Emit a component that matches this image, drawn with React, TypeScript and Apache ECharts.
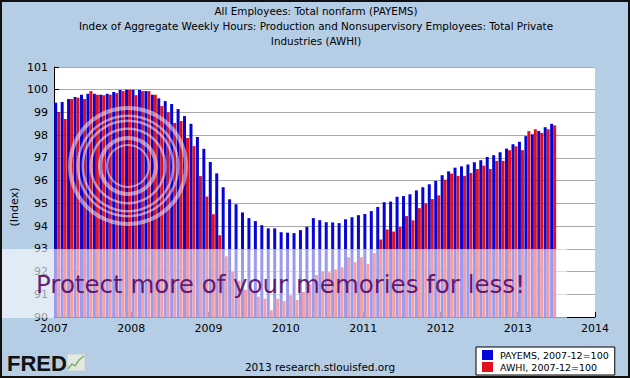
import { useEffect, useRef } from 'react';
import * as echarts from 'echarts';

const titleLines = [
  'All Employees: Total nonfarm (PAYEMS)',
  'Index of Aggregate Weekly Hours: Production and Nonsupervisory Employees: Total Private',
  'Industries (AWHI)',
];
const legendNames = ['PAYEMS, 2007-12=100', 'AWHI, 2007-12=100'];
const firstYear = 2007;
const lastYear = 2014;
const yMin = 90;
const yMax = 101;

// monthly observations, 2007-01 .. 2013-06
const payems = [
  99.43, 99.46, 99.59, 99.68, 99.78, 99.82, 99.82, 99.78, 99.82, 99.9, 99.99, 100.0,
  100.0, 99.99, 99.94, 99.78, 99.62, 99.5, 99.37, 99.15, 98.84, 98.5, 97.92, 97.4,
  96.82, 96.32, 95.71, 95.18, 94.96, 94.6, 94.35, 94.22, 94.04, 93.9, 93.9, 93.73,
  93.71, 93.69, 93.82, 93.97, 94.35, 94.26, 94.17, 94.16, 94.13, 94.3, 94.39, 94.48,
  94.53, 94.66, 94.84, 95.05, 95.08, 95.29, 95.32, 95.4, 95.57, 95.71, 95.84, 95.99,
  96.24, 96.41, 96.57, 96.63, 96.71, 96.81, 96.9, 97.04, 97.12, 97.25, 97.41, 97.6,
  97.71, 97.96, 98.04, 98.18, 98.35, 98.5,
];
const awhi = [
  99.01, 98.71, 99.59, 99.65, 99.59, 99.94, 99.78, 99.76, 99.78, 99.85, 99.94, 100.0,
  99.76, 99.94, 99.94, 99.78, 99.28, 99.01, 98.54, 98.62, 97.88, 97.52, 96.2, 95.3,
  94.52, 93.6, 92.67, 92.0, 91.6, 91.2, 91.1, 90.9, 90.8, 90.3, 90.8, 90.7,
  90.95, 90.75, 91.1, 91.45, 91.85, 92.0, 91.97, 92.09, 92.19, 92.63, 92.41, 92.63,
  92.34, 92.81, 93.41, 93.85, 93.76, 93.96, 94.44, 94.25, 94.79, 95.0, 95.19, 95.35,
  96.04, 96.31, 96.21, 96.21, 96.34, 96.51, 96.66, 96.51, 96.87, 96.87, 97.34, 97.51,
  97.34, 98.18, 98.26, 98.1, 98.26, 98.43,
];

// month index -> fractional year at mid-month
const monthX = payems.map((_, i) => firstYear + i / 12 + 1 / 24);

const BLUE = '#0505D8';
const RED = '#E0101C';
const BG = '#B5CDE5';
const FONT = 'DejaVu Sans';

export default function App() {
  const ref = useRef<HTMLDivElement>(null);
  useEffect(() => {
    if (!ref.current) return;
    const chart = echarts.init(ref.current, null, { renderer: 'svg' });
    const ringSpec = [
      [56, 60],
      [49, 51.5],
      [44, 46.5],
      [36, 38.5],
      [26, 30],
      [20, 22],
    ];
    chart.setOption({
      animation: false,
      backgroundColor: BG,
      grid: { left: 54, right: 35, top: 67, bottom: 61, show: true, backgroundColor: '#fff', borderWidth: 0 },
      xAxis: {
        type: 'value',
        min: firstYear,
        max: lastYear,
        interval: 1,
        axisLine: { show: true, onZero: false, lineStyle: { color: '#000', width: 1 } },
        axisTick: { show: true, inside: true, length: 5, lineStyle: { color: '#000' } },
        splitLine: { show: false },
        axisLabel: { color: '#000', fontFamily: FONT, fontSize: 11, margin: 6, formatter: (v: number) => String(v) },
      },
      yAxis: {
        type: 'value',
        min: yMin,
        max: yMax,
        interval: 1,
        axisLine: { show: true, lineStyle: { color: '#000', width: 1 } },
        axisTick: { show: true, inside: true, length: 5, lineStyle: { color: '#000' } },
        splitLine: { show: true, lineStyle: { color: '#A9A9A9', width: 1 } },
        axisLabel: { color: '#000', fontFamily: FONT, fontSize: 11, margin: 6 },
      },
      legend: {
        orient: 'vertical',
        left: 476,
        top: 347,
        backgroundColor: '#fff',
        borderColor: '#000',
        borderWidth: 1,
        borderRadius: 0,
        padding: [3, 6, 3, 6],
        itemGap: 2,
        itemWidth: 11,
        itemHeight: 10,
        icon: 'rect',
        textStyle: { color: '#000', fontFamily: FONT, fontSize: 9.5, padding: [0, 0, 0, 2] },
        data: legendNames,
      },
      series: [
        {
          type: 'bar',
          name: legendNames[0],
          data: payems.map((v, i) => [monthX[i], v]),
          barWidth: 3,
          barGap: '0%',
          itemStyle: { color: BLUE },
          clip: true,
        },
        {
          type: 'bar',
          name: legendNames[1],
          data: awhi.map((v, i) => [monthX[i], v]),
          barWidth: 3,
          barGap: '0%',
          itemStyle: { color: RED },
          clip: true,
        },
      ],
      graphic: [
        ...titleLines.map((t, i) => ({
          type: 'text',
          x: 316,
          y: 11 + i * 15,
          style: { text: t, fill: '#000', font: `10.4px "${FONT}"`, align: 'center', verticalAlign: 'middle' },
        })),
        {
          type: 'text',
          x: 14,
          y: 207,
          rotation: Math.PI / 2,
          style: { text: '(Index)', fill: '#000', font: `11px "${FONT}"`, align: 'center', verticalAlign: 'middle' },
        },
        {
          type: 'text',
          x: 320,
          y: 367,
          style: { text: '2013 research.stlouisfed.org', fill: '#000', font: `10.5px "${FONT}"`, align: 'center', verticalAlign: 'middle' },
        },
        {
          type: 'text',
          x: 7,
          y: 363,
          style: { text: 'FRED', fill: '#111', font: 'bold 22px "Liberation Sans"', align: 'left', verticalAlign: 'middle' },
        },
        {
          type: 'rect',
          shape: { x: 67, y: 354, width: 18, height: 17 },
          style: { fill: '#E4E8E2', stroke: '#C8CCC8', lineWidth: 1 },
        },
        {
          type: 'polyline',
          shape: { points: [[68, 369], [72, 364], [75, 366], [79, 360], [84, 356]] },
          style: { stroke: '#7FAF6A', lineWidth: 1.5, fill: 'none' },
        },
        ...ringSpec.map(([r0, r]) => ({
          type: 'ring',
          z: 50,
          shape: { cx: 128, cy: 166, r0, r },
          style: { fill: 'rgba(255,255,255,0.5)' },
        })),
        {
          type: 'rect',
          z: 50,
          shape: { x: 0, y: 249, width: 567, height: 69 },
          style: { fill: 'rgba(255,255,255,0.6)' },
        },
        {
          type: 'text',
          z: 51,
          x: 36,
          y: 284,
          style: {
            text: 'Protect more of your memories for less!',
            fill: 'rgba(85,5,100,0.88)',
            font: `24.5px "${FONT}"`,
            align: 'left',
            verticalAlign: 'middle',
          },
        },
        {
          type: 'rect',
          z: 60,
          shape: { x: 1, y: 1, width: 628, height: 376 },
          style: { fill: 'none', stroke: '#111', lineWidth: 2 },
        },
      ],
    });
    return () => chart.dispose();
  }, []);
  return <div ref={ref} style={{ position: 'fixed', left: 0, top: 0, width: 630, height: 378 }} />;
}
